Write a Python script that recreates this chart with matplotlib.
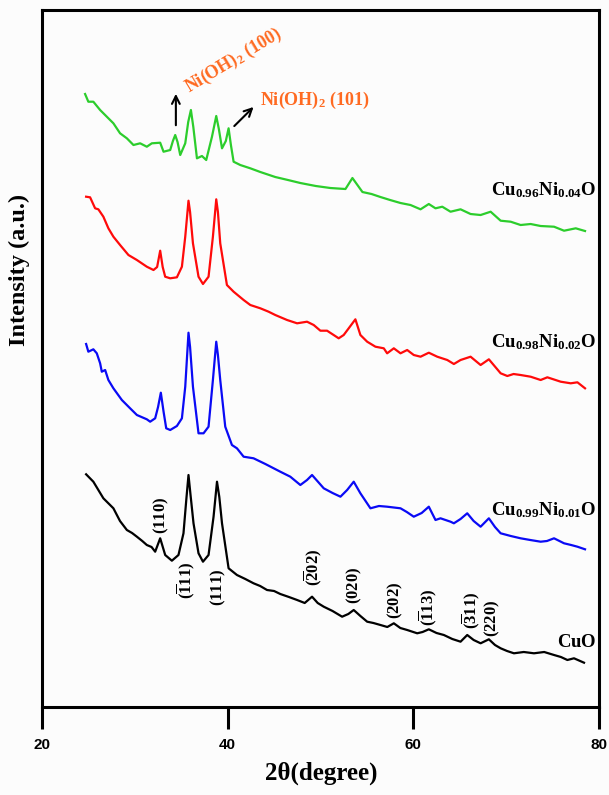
import matplotlib
matplotlib.use("Agg")
import matplotlib.pyplot as plt

plt.rcParams['font.family'] = ['Liberation Serif', 'DejaVu Serif']
plt.rcParams['mathtext.fontset'] = 'custom'
plt.rcParams['mathtext.rm'] = 'Liberation Serif'
plt.rcParams['mathtext.bf'] = 'Liberation Serif:bold'
plt.rcParams['mathtext.it'] = 'Liberation Serif:italic'

# XRD patterns (2theta in degrees, intensity in a.u., already stacked)
tt_cuo = [24.75, 25.53, 26.61, 27.69, 28.4, 29.14, 29.7, 30.22, 30.8, 31.29, 31.8, 32.19, 32.73,
          33.27, 33.99, 34.7, 35.24, 35.55, 35.78, 36.0, 36.32, 36.86, 37.34, 37.94, 38.48,
          38.85, 39.1, 39.39, 40.1, 41.0, 41.9, 42.79, 43.5, 44.24, 45.0, 45.67, 46.6, 47.48,
          48.3, 49.09, 49.7, 50.35, 51.3, 52.33, 53.0, 53.58, 54.3, 55.03, 55.7, 56.46, 57.2,
          57.9, 58.6, 59.34, 60.42, 61.0, 61.67, 62.5, 63.29, 64.2, 65.09, 65.81, 66.5, 67.25,
          68.14, 68.8, 69.41, 70.1, 70.84, 71.9, 73.0, 74.1, 75.16, 75.9, 76.6, 77.31, 78.39]
cuo = [232.7, 225.3, 208.7, 198.7, 186.0, 177.0, 174.0, 170.3, 166.0, 162.0, 160.0, 155.3, 168.7,
       152.0, 146.3, 152.0, 173.7, 208.0, 232.0, 212.0, 183.7, 153.7, 145.3, 152.0, 190.3,
       225.3, 210.0, 183.7, 138.7, 132.0, 128.0, 123.7, 121.0, 117.0, 116.0, 113.0, 110.0, 107.0,
       104.0, 110.3, 104.0, 100.3, 96.0, 90.3, 93.0, 97.0, 91.0, 85.3, 84.0, 82.0, 80.0,
       83.7, 79.0, 77.0, 73.7, 75.0, 77.7, 74.0, 72.0, 68.0, 65.3, 72.0, 67.0, 63.7,
       67.7, 62.0, 58.7, 56.0, 53.7, 55.0, 53.7, 55.0, 52.0, 50.0, 47.0, 48.7, 44.3]

tt_ni01 = [24.75, 24.99, 25.53, 25.9, 26.26, 26.44, 26.8, 27.15, 27.69, 28.6, 29.49, 30.22, 31.29,
           31.65, 32.19, 32.5, 32.8, 33.1, 33.38, 33.81, 34.53, 35.07, 35.43, 35.78, 35.95, 36.26,
           36.86, 37.4, 37.94, 38.41, 38.77, 38.95, 39.2, 39.74, 40.46, 41.0, 41.72, 42.79,
           44.06, 45.67, 46.75, 47.83, 48.55, 49.09, 50.35, 51.3, 52.15, 52.87, 53.58, 54.3,
           55.38, 56.3, 57.18, 58.62, 59.3, 60.05, 60.9, 61.67, 62.39, 62.93, 64.01, 64.37, 65.09,
           65.81, 66.5, 67.25, 68.14, 68.8, 69.41, 70.5, 71.56, 72.6, 73.72, 74.4, 75.16,
           76.24, 77.0, 77.68, 78.5]
ni01 = [363.0, 355.3, 357.7, 353.7, 343.7, 335.3, 337.0, 327.0, 318.7, 307.0, 298.7, 292.0, 287.7,
        285.3, 288.7, 300.0, 314.3, 295.0, 278.7, 277.0, 281.0, 288.7, 320.3, 374.3, 360.0, 320.3,
        273.7, 273.7, 280.3, 327.0, 365.3, 352.0, 327.0, 280.3, 262.0, 258.7, 250.3, 248.7,
        243.0, 235.3, 230.3, 222.0, 227.0, 232.0, 218.7, 214.0, 210.3, 217.0, 225.3, 213.7,
        198.7, 201.0, 200.3, 198.7, 195.0, 190.3, 194.0, 200.3, 187.0, 188.7, 185.3, 183.7, 188.0,
        193.7, 186.0, 180.3, 188.7, 180.0, 173.7, 171.0, 168.7, 167.0, 165.3, 166.0, 168.7,
        163.7, 162.0, 160.3, 157.7]

tt_ni02 = [24.75, 25.18, 25.72, 26.07, 26.61, 27.15, 27.69, 28.41, 29.31, 30.22, 31.29, 32.01,
           32.4, 32.73, 33.0, 33.27, 33.81, 34.53, 35.07, 35.43, 35.78, 35.95, 36.26, 36.86,
           37.34, 37.94, 38.41, 38.77, 38.95, 39.2, 39.92, 40.64, 41.72, 42.44, 43.52, 44.41,
           45.13, 46.4, 47.48, 48.55, 49.27, 49.99, 50.71, 51.42, 51.96, 52.5, 53.04, 53.76,
           54.3, 55.03, 55.92, 56.82, 57.18, 57.9, 58.62, 59.34, 60.05, 60.78, 61.67, 62.58,
           63.66, 64.37, 65.09, 66.17, 67.25, 68.14, 69.41, 70.13, 70.8, 71.56, 72.64, 73.72,
           74.44, 75.88, 76.96, 77.68, 78.5]
ni02 = [510.3, 509.7, 498.7, 497.7, 490.3, 478.7, 470.3, 462.0, 452.0, 447.0, 440.3, 437.0,
        440.0, 456.3, 440.0, 430.3, 428.7, 429.7, 440.3, 470.3, 506.3, 495.0, 463.7, 430.3,
        423.0, 430.3, 470.3, 507.7, 495.0, 463.7, 422.0, 415.3, 407.0, 402.0, 398.7, 395.3,
        392.0, 387.0, 383.7, 385.3, 382.0, 376.3, 376.3, 372.0, 368.7, 372.0, 378.7, 387.7,
        372.0, 365.3, 360.3, 358.7, 353.7, 358.7, 353.7, 357.0, 352.0, 350.3, 354.3, 350.3,
        347.0, 343.0, 347.0, 350.3, 342.0, 347.7, 333.7, 331.0, 333.0, 332.0, 330.3, 327.0,
        329.7, 325.3, 323.7, 324.7, 318.7]

tt_ni04 = [24.64, 24.99, 25.53, 26.26, 26.98, 27.69, 28.41, 29.14, 29.85, 30.57, 31.29, 31.83,
           32.73, 33.09, 33.81, 34.1, 34.35, 34.6, 34.89, 35.43, 35.75, 36.04, 36.3, 36.69,
           37.23, 37.69, 38.31, 38.77, 39.05, 39.39, 39.8, 40.1, 40.35, 40.64, 41.36, 42.44,
           43.52, 45.13, 46.5, 47.83, 49.5, 51.07, 52.69, 53.44, 54.52, 55.5, 56.46, 57.5,
           58.62, 59.7, 60.78, 61.67, 62.39, 63.12, 64.01, 65.09, 66.17, 67.25, 68.33, 69.41,
           70.49, 71.56, 72.64, 73.72, 75.16, 76.24, 77.5, 78.5]
ni04 = [613.0, 605.3, 605.3, 597.0, 590.3, 583.7, 573.7, 568.7, 562.0, 563.7, 560.3, 563.7,
        564.3, 555.3, 557.0, 566.0, 572.0, 565.0, 552.0, 563.7, 585.0, 597.0, 580.0, 548.7,
        551.0, 547.0, 570.3, 591.0, 578.0, 558.7, 566.0, 578.7, 562.0, 545.3, 542.0, 538.7,
        535.0, 530.0, 527.0, 524.0, 521.0, 519.0, 518.0, 529.0, 515.0, 513.0, 510.0, 507.0,
        504.0, 502.0, 497.7, 503.0, 498.7, 500.3, 495.3, 497.7, 493.0, 492.0, 495.3, 486.3,
        485.3, 482.0, 483.0, 481.0, 480.3, 476.3, 478.7, 476.0]

sample_names = [r'$\mathbf{CuO}$', r'$\mathbf{Cu_{0.99}Ni_{0.01}O}$',
                r'$\mathbf{Cu_{0.98}Ni_{0.02}O}$', r'$\mathbf{Cu_{0.96}Ni_{0.04}O}$']
name_y = [60, 192, 360, 512]

hkl_labels = [r'$\mathbf{(110)}$', r'$\mathbf{(\overline{1}11)}$', r'$\mathbf{(111)}$',
              r'$\mathbf{(\overline{2}02)}$', r'$\mathbf{(020)}$', r'$\mathbf{(202)}$',
              r'$\mathbf{(\overline{1}13)}$', r'$\mathbf{(\overline{3}11)}$', r'$\mathbf{(220)}$']
hkl_x = [32.9, 35.5, 39.0, 49.2, 53.6, 58.1, 61.6, 66.25, 68.5]
hkl_y = [192, 127, 120, 140, 122, 107, 100, 97, 89]

fig = plt.figure(figsize=(6.09, 7.95), dpi=100, facecolor='#fcfcfc')
ax = fig.add_axes([0.069, 0.1107, 0.9145, 0.8767], facecolor='#fcfcfc')

ax.plot(tt_cuo, cuo, color='black', lw=1.6)
ax.plot(tt_ni01, ni01, color='#0a0af5', lw=1.6)
ax.plot(tt_ni02, ni02, color='#ff0a0a', lw=1.6)
ax.plot(tt_ni04, ni04, color='#2ccd2c', lw=1.6)

for name, y in zip(sample_names, name_y):
    ax.text(79.7, y, name, fontsize=13.5, ha='right', va='baseline')

for lab, x, y in zip(hkl_labels, hkl_x, hkl_y):
    ax.text(x, y, lab, fontsize=12, rotation=90, ha='center', va='center')

orange = '#ff6a21'
ax.annotate('', xy=(34.42, 616), xytext=(34.42, 579),
            arrowprops=dict(arrowstyle='->', color='black', lw=1.5, mutation_scale=14))
ax.annotate('', xy=(43.0, 602), xytext=(40.5, 579),
            arrowprops=dict(arrowstyle='->', color='black', lw=1.5, mutation_scale=14))
ax.text(40.6, 646, r'$\mathbf{Ni(OH)_2\ (100)}$', color=orange, fontsize=13,
        rotation=31, rotation_mode='anchor', ha='center', va='center')
ax.text(43.5, 607, r'$\mathbf{Ni(OH)_2\ (101)}$', color=orange, fontsize=13,
        ha='left', va='center')

ax.set_xlim(20, 80)
ax.set_ylim(0, 697)
ax.set_xticks([20, 40, 60, 80])
ax.set_yticks([])
ax.tick_params(axis='x', direction='out', length=16, width=2.2, pad=6)
for t in ax.get_xticklabels():
    t.set_fontfamily(['Liberation Sans', 'DejaVu Sans'])
    t.set_fontweight('bold')
    t.set_fontsize(11)
for s in ax.spines.values():
    s.set_linewidth(2.2)

ax.set_xlabel('2θ(degree)', fontsize=18, fontweight='bold')
ax.set_ylabel('Intensity (a.u.)', fontsize=17.5, fontweight='bold')
ax.xaxis.set_label_coords(0.501, -0.079)
ax.yaxis.set_label_coords(-0.022, 0.627)

fig.savefig('out.png', dpi=100, facecolor=fig.get_facecolor())
